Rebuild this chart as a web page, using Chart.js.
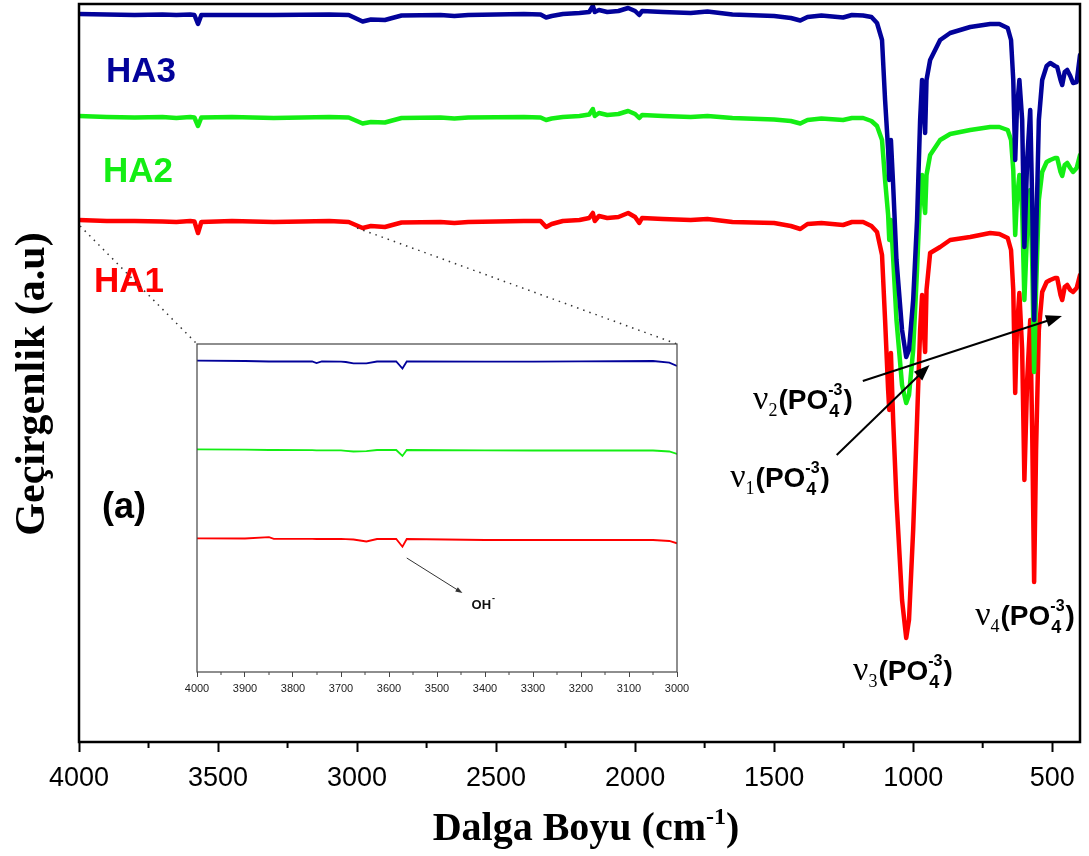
<!DOCTYPE html>
<html>
<head>
<meta charset="utf-8">
<script src="https://cdn.jsdelivr.net/npm/chart.js@4.4.0/dist/chart.umd.min.js"></script>
<style>
  body { margin: 0; background: #fff; }
  #wrap { position: relative; width: 1089px; height: 856px; }
  #inset { position: absolute; left: 160px; top: 340px; }
</style>
</head>
<body>
<div id="wrap">
  <canvas id="main" width="1089" height="856"></canvas>
  <canvas id="inset" width="540" height="370"></canvas>
</div>
<script>
// main spectrum, wavenumber in cm-1, transmittance in a.u. (curves stacked)
const wavenumbers = [4000, 3900, 3800, 3700, 3650, 3600, 3585, 3572, 3560, 3450, 3300, 3100, 3030, 2980, 2950, 2900, 2840, 2700, 2650, 2600,
  2400, 2340, 2320, 2300, 2260, 2200, 2165, 2152, 2145, 2130, 2100, 2060, 2025, 2000, 1985, 1975, 1900, 1800, 1740, 1650,
  1500, 1440, 1406, 1380, 1330, 1252, 1220, 1180, 1150, 1130, 1112, 1101, 1090, 1086, 1080, 1072, 1060, 1040, 1025, 1015,
  1000, 986, 975, 968, 962, 957, 952, 939, 903, 867, 795, 723, 690, 660, 648, 640, 633, 627, 618, 608,
  600, 590, 579, 572, 565, 558, 548, 536, 520, 507, 490, 482, 470, 464, 455, 446, 435, 425, 412, 400];

const ha3 = [728, 727.5, 727, 727.5, 727, 727.5, 727, 718, 727, 727, 727, 727.5, 727, 720.5, 722.5, 722, 726.5, 727, 726, 727,
  728, 727.5, 724.5, 726, 728, 729, 730, 736, 730, 732, 730, 731, 734, 731, 727, 731, 730, 729, 730.5, 727.5,
  726, 724, 721.5, 725, 726.5, 724.5, 727, 726.5, 725, 719, 702, 642, 592, 562, 602, 557, 482, 412, 385, 392,
  442, 522, 622, 662, 632, 609, 662, 682, 702, 709, 715, 718, 718, 714, 702, 662, 582, 632, 662, 622,
  495, 582, 632, 542, 422, 502, 622, 662, 676, 679, 676, 675, 662, 657, 670, 672, 666, 659, 660, 687];

const ha2 = [626, 625, 624.5, 625, 624, 625, 624.5, 616, 624.5, 625, 624, 625, 624.5, 618.5, 620, 619.5, 624, 624.5, 623.5, 624.5,
  625, 624.5, 622, 623.5, 625, 626, 627.5, 633, 626, 629, 627, 628, 631, 628, 624, 627, 626, 625, 626, 624,
  622.5, 621, 618.5, 622, 623.5, 622, 624, 624, 621, 616, 602, 562, 527, 502, 522, 484, 422, 357, 339, 347,
  392, 472, 547, 567, 542, 529, 567, 587, 602, 608, 612, 615, 615, 612, 602, 572, 507, 542, 567, 532,
  442, 512, 552, 482, 370, 452, 542, 570, 580, 582, 584, 584, 570, 566, 577, 579, 574, 570, 574, 587];

const ha1 = [522, 521, 521, 520.5, 520, 521, 520.5, 509, 520, 521, 520, 521, 520, 514, 516, 515, 519.5, 520, 519, 520,
  521, 521, 515, 518, 521, 522, 524, 529, 521, 526, 524, 525, 529, 525, 519, 524, 523, 522, 523, 520,
  519, 516, 513, 518, 519, 517, 520, 520, 516, 510, 487, 422, 352, 332, 389, 322, 242, 142, 104, 122,
  212, 322, 412, 447, 412, 390, 452, 489, 495, 502, 505, 509, 508, 504, 492, 452, 349, 412, 449, 392,
  262, 362, 422, 312, 160, 292, 412, 450, 460, 462, 464, 464, 447, 442, 455, 457, 452, 450, 454, 467];

const xTicks = [4000, 3500, 3000, 2500, 2000, 1500, 1000, 500];
const xMinorTicks = [3750, 3250, 2750, 2250, 1750, 1250, 750];

// inset: 4000-3000 cm-1 region
const insetWavenumbers = [4000, 3900, 3850, 3840, 3760, 3751, 3740, 3700, 3690, 3674, 3647, 3625, 3585, 3572, 3563, 3400, 3300, 3200, 3050, 3016, 3000];
const insetHa3 = [311.3, 311, 310.5, 310.5, 310.5, 309, 310.5, 310.3, 310, 308.7, 308.7, 310.5, 310.5, 303.5, 310.5, 310.3, 310.3, 310.6, 311, 309.3, 306];
const insetHa2 = [222.7, 222.3, 222, 222, 221.8, 221.7, 221.7, 221.7, 221.2, 220.5, 220.8, 222, 222, 216, 222, 221.6, 221.5, 221.5, 221.5, 220.5, 218];
const insetHa1 = [133.7, 133.5, 134.8, 133.2, 133.2, 133, 133, 133, 132.8, 132.5, 130.5, 133, 133, 125.3, 133, 132, 132, 132, 132, 131, 128.7];
const insetTicks = [4000, 3900, 3800, 3700, 3600, 3500, 3400, 3300, 3200, 3100, 3000];
const insetMinorTicks = [3950, 3850, 3750, 3650, 3550, 3450, 3350, 3250, 3150, 3050];

const BLUE = '#02029a', GREEN = '#14ee14', RED = '#ff0000';

function pts(xs, ys) { return xs.map((x, i) => ({ x: x, y: ys[i] })); }

function arrow(ctx, x1, y1, x2, y2, head, half) {
  const ang = Math.atan2(y2 - y1, x2 - x1);
  ctx.beginPath();
  ctx.moveTo(x1, y1);
  ctx.lineTo(x2 - head * 0.8 * Math.cos(ang), y2 - head * 0.8 * Math.sin(ang));
  ctx.stroke();
  ctx.beginPath();
  ctx.moveTo(x2, y2);
  ctx.lineTo(x2 - head * Math.cos(ang) + half * Math.sin(ang), y2 - head * Math.sin(ang) - half * Math.cos(ang));
  ctx.lineTo(x2 - head * Math.cos(ang) - half * Math.sin(ang), y2 - head * Math.sin(ang) + half * Math.cos(ang));
  ctx.closePath();
  ctx.fill();
}

function drawNu(ctx, x, y, n) {
  ctx.textAlign = 'left';
  ctx.textBaseline = 'alphabetic';
  ctx.font = '34px "Liberation Serif"';
  ctx.fillText('ν', x, y);
  x += ctx.measureText('ν').width;
  ctx.font = '18px "Liberation Serif"';
  ctx.fillText(n, x, y + 7);
  x += ctx.measureText(n).width + 1;
  ctx.font = 'bold 28px "Liberation Sans"';
  ctx.fillText('(PO', x, y);
  x += ctx.measureText('(PO').width;
  ctx.font = 'bold 16px "Liberation Sans"';
  ctx.fillText('-3', x, y - 14);
  const w = ctx.measureText('-3').width;
  ctx.font = 'bold 18px "Liberation Sans"';
  ctx.fillText('4', x + 1, y + 8);
  x += w + 1;
  ctx.font = 'bold 28px "Liberation Sans"';
  ctx.fillText(')', x, y);
}

const insetAnno = {
  id: 'insetAnno',
  beforeDraw(chart) {
    const { ctx, chartArea: a } = chart;
    ctx.save();
    ctx.fillStyle = '#fff';
    ctx.fillRect(a.left, a.top, a.right - a.left, a.bottom - a.top);
    ctx.restore();
  },
  afterDraw(chart) {
    const { ctx, chartArea: a, scales: { x, y } } = chart;
    ctx.save();
    ctx.strokeStyle = '#444';
    ctx.lineWidth = 1.2;
    ctx.strokeRect(a.left, a.top, a.right - a.left, a.bottom - a.top);
    ctx.lineWidth = 1;
    insetMinorTicks.forEach(v => {
      const px = x.getPixelForValue(v);
      ctx.beginPath(); ctx.moveTo(px, a.bottom); ctx.lineTo(px, a.bottom + 3); ctx.stroke();
    });
    // OH- marker
    ctx.strokeStyle = '#333';
    ctx.fillStyle = '#333';
    ctx.lineWidth = 1;
    arrow(ctx, x.getPixelForValue(3563), y.getPixelForValue(114), x.getPixelForValue(3447), y.getPixelForValue(79), 7, 2.5);
    ctx.fillStyle = '#111';
    ctx.font = 'bold 13px "Liberation Sans"';
    ctx.textAlign = 'left';
    ctx.textBaseline = 'alphabetic';
    const ox = x.getPixelForValue(3428), oy = y.getPixelForValue(63);
    const ow = ctx.measureText('OH').width;
    ctx.fillText('OH', ox, oy);
    ctx.font = 'bold 9px "Liberation Sans"';
    ctx.fillText('-', ox + ow + 1, oy - 8);
    ctx.restore();
  }
};

const insetChart = new Chart(document.getElementById('inset'), {
  type: 'line',
  data: {
    datasets: [
      { label: 'HA3', data: pts(insetWavenumbers, insetHa3), borderColor: BLUE },
      { label: 'HA2', data: pts(insetWavenumbers, insetHa2), borderColor: GREEN },
      { label: 'HA1', data: pts(insetWavenumbers, insetHa1), borderColor: RED }
    ]
  },
  options: {
    responsive: false,
    animation: false,
    layout: { padding: { left: 37, top: 4, right: 23, bottom: 0 } },
    elements: { point: { radius: 0 }, line: { borderWidth: 1.8, tension: 0 } },
    plugins: { legend: { display: false }, tooltip: { enabled: false } },
    scales: {
      x: {
        type: 'linear', reverse: true, min: 3000, max: 4000,
        afterBuildTicks: axis => { axis.ticks = insetTicks.map(v => ({ value: v })); },
        afterFit: s => { s.height = 38; },
        border: { display: false },
        grid: { drawOnChartArea: false, tickLength: 5, tickWidth: 1, tickColor: '#444' },
        ticks: { autoSkip: false, maxRotation: 0, padding: 5, color: '#222', font: { family: 'Liberation Sans', size: 11 },
          callback: v => String(v) }
      },
      y: { display: false, min: 0, max: 328 }
    }
  },
  plugins: [insetAnno]
});

const mainAnno = {
  id: 'mainAnno',
  afterDraw(chart) {
    const { ctx, chartArea: a, scales: { x, y } } = chart;
    ctx.save();
    ctx.strokeStyle = '#000';
    ctx.fillStyle = '#000';
    ctx.lineWidth = 2.5;
    ctx.strokeRect(a.left, a.top, a.right - a.left, a.bottom - a.top);
    ctx.lineWidth = 2;
    xMinorTicks.forEach(v => {
      const px = x.getPixelForValue(v);
      ctx.beginPath(); ctx.moveTo(px, a.bottom); ctx.lineTo(px, a.bottom + 6); ctx.stroke();
    });

    // axis titles
    ctx.font = 'bold 40px "Liberation Serif"';
    const t1 = 'Dalga Boyu (cm', t2 = '-1', t3 = ')';
    const w1 = ctx.measureText(t1).width, w3 = ctx.measureText(t3).width;
    ctx.font = 'bold 24px "Liberation Serif"';
    const w2 = ctx.measureText(t2).width;
    let tx = 586 - (w1 + w2 + w3) / 2;
    const ty = 840;
    ctx.textAlign = 'left';
    ctx.textBaseline = 'alphabetic';
    ctx.font = 'bold 40px "Liberation Serif"';
    ctx.fillText(t1, tx, ty);
    ctx.font = 'bold 24px "Liberation Serif"';
    ctx.fillText(t2, tx + w1, ty - 16);
    ctx.font = 'bold 40px "Liberation Serif"';
    ctx.fillText(t3, tx + w1 + w2, ty);

    ctx.save();
    ctx.translate(33, 384);
    ctx.rotate(-Math.PI / 2);
    ctx.textAlign = 'center';
    ctx.textBaseline = 'middle';
    ctx.font = 'bold 42px "Liberation Serif"';
    ctx.fillText('Geçirgenlik (a.u)', 0, 0);
    ctx.restore();

    // sample labels
    ctx.textAlign = 'left';
    ctx.textBaseline = 'alphabetic';
    ctx.font = 'bold 35px "Liberation Sans"';
    ctx.fillStyle = BLUE;  ctx.fillText('HA3', x.getPixelForValue(3903), y.getPixelForValue(660));
    ctx.fillStyle = GREEN; ctx.fillText('HA2', x.getPixelForValue(3914), y.getPixelForValue(560));
    ctx.fillStyle = RED;   ctx.fillText('HA1', x.getPixelForValue(3946), y.getPixelForValue(450));
    ctx.fillStyle = '#000';
    ctx.font = 'bold 36px "Liberation Sans"';
    ctx.fillText('(a)', x.getPixelForValue(3917), y.getPixelForValue(224));

    // phosphate band labels
    drawNu(ctx, x.getPixelForValue(1576), y.getPixelForValue(333), '2');
    drawNu(ctx, x.getPixelForValue(1658), y.getPixelForValue(255), '1');
    drawNu(ctx, x.getPixelForValue(1216), y.getPixelForValue(62), '3');
    drawNu(ctx, x.getPixelForValue(777), y.getPixelForValue(117), '4');
    ctx.lineWidth = 2;
    arrow(ctx, x.getPixelForValue(1181), y.getPixelForValue(361), x.getPixelForValue(465), y.getPixelForValue(426), 16, 6);
    arrow(ctx, x.getPixelForValue(1275), y.getPixelForValue(287), x.getPixelForValue(941), y.getPixelForValue(377), 16, 6);

    // dotted zoom guides to the inset
    const ia = insetChart.chartArea;
    const ic = insetChart.canvas;
    const left = ic.offsetLeft + ia.left, right = ic.offsetLeft + ia.right, top = ic.offsetTop + ia.top;
    ctx.strokeStyle = '#333';
    ctx.lineWidth = 1.5;
    ctx.setLineDash([1.5, 5]);
    ctx.beginPath();
    ctx.moveTo(x.getPixelForValue(3996), y.getPixelForValue(516)); ctx.lineTo(left, top);
    ctx.moveTo(x.getPixelForValue(3000), y.getPixelForValue(514)); ctx.lineTo(right, top);
    ctx.stroke();
    ctx.restore();
  }
};

new Chart(document.getElementById('main'), {
  type: 'line',
  data: {
    datasets: [
      { label: 'HA3', data: pts(wavenumbers, ha3), borderColor: BLUE },
      { label: 'HA2', data: pts(wavenumbers, ha2), borderColor: GREEN },
      { label: 'HA1', data: pts(wavenumbers, ha1), borderColor: RED }
    ]
  },
  options: {
    responsive: false,
    animation: false,
    layout: { padding: { left: 79, top: 4, right: 9, bottom: 0 } },
    elements: { point: { radius: 0 }, line: { borderWidth: 4.5, tension: 0, borderJoinStyle: 'round', borderCapStyle: 'round' } },
    plugins: { legend: { display: false }, tooltip: { enabled: false } },
    scales: {
      x: {
        type: 'linear', reverse: true, min: 400, max: 4000,
        afterBuildTicks: axis => { axis.ticks = xTicks.map(v => ({ value: v })); },
        afterFit: s => { s.height = 114; },
        border: { display: false },
        grid: { drawOnChartArea: false, tickLength: 10, tickWidth: 2, tickColor: '#000' },
        ticks: { autoSkip: false, maxRotation: 0, padding: 10, color: '#000', font: { family: 'Liberation Sans', size: 27 },
          callback: v => String(v) }
      },
      y: { display: false, min: 0, max: 738 }
    }
  },
  plugins: [mainAnno]
});
</script>
</body>
</html>
